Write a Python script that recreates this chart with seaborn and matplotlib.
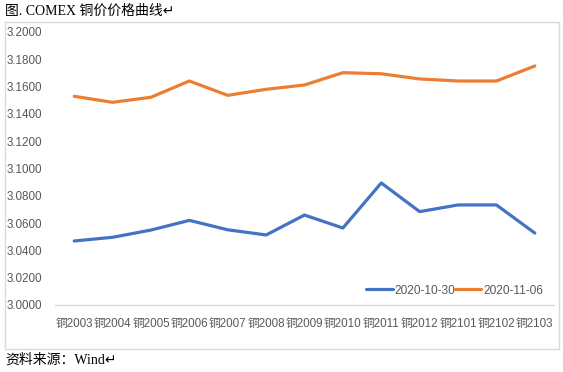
import pandas as pd
import seaborn as sns
import matplotlib.pyplot as plt
from matplotlib.patches import Rectangle

# contract months and prices
contracts = ["铜2003", "铜2004", "铜2005", "铜2006", "铜2007", "铜2008", "铜2009",
             "铜2010", "铜2011", "铜2012", "铜2101", "铜2102", "铜2103"]
price_1030 = [3.0469, 3.0496, 3.0549, 3.0620, 3.0551, 3.0513, 3.0659,
              3.0564, 3.0894, 3.0684, 3.0733, 3.0733, 3.0527]
price_1106 = [3.1529, 3.1485, 3.1522, 3.1641, 3.1536, 3.1580, 3.1612,
              3.1702, 3.1694, 3.1656, 3.1641, 3.1641, 3.1751]
series_names = ["2020-10-30", "2020-11-06"]
yticks = [3.0000, 3.0200, 3.0400, 3.0600, 3.0800, 3.1000,
          3.1200, 3.1400, 3.1600, 3.1800, 3.2000]

df = pd.DataFrame({
    "合约": contracts * 2,
    "价格": price_1030 + price_1106,
    "日期": [series_names[0]] * len(contracts) + [series_names[1]] * len(contracts),
})

sns.set_style("white")
plt.rcParams["font.family"] = ["Liberation Sans", "Noto Sans CJK SC", "DejaVu Sans"]

W, H = 563, 372
fig = plt.figure(figsize=(W / 100, H / 100), dpi=100)
ax = fig.add_axes([55 / W, (H - 305) / H, (554 - 55) / W, (305 - 32) / H])

sns.lineplot(data=df, x="合约", y="价格", hue="日期", sort=False,
             palette=["#4472C4", "#ED7D31"], linewidth=2.3, ax=ax)

grey = "#595959"
ax.set_xlim(-0.5, len(contracts) - 0.5)
ax.set_ylim(3.0, 3.2)
ax.set_yticks(yticks)
ax.set_yticklabels([f"{v:.4f}" for v in yticks], ha="left")
ax.tick_params(axis="y", length=0, pad=34.5, labelsize=8.4, labelcolor=grey)
ax.tick_params(axis="x", length=0, pad=9, labelsize=8.4, labelcolor=grey)
ax.set_xlabel("")
ax.set_ylabel("")
for side in ["top", "right", "left"]:
    ax.spines[side].set_visible(False)
ax.spines["bottom"].set_color("#d9d9d9")
ax.spines["bottom"].set_linewidth(1.0)
ax.patch.set_alpha(0)

leg = ax.legend(loc="lower right", bbox_to_anchor=(0.995, 0.0), ncol=2, frameon=False,
                fontsize=8.6, handlelength=2.2, handletextpad=0.15, columnspacing=0.0,
                borderaxespad=0.3)
for t in leg.get_texts():
    t.set_color(grey)

# outer chart frame
fig.patches.append(Rectangle((5 / W, (H - 349) / H), (559 - 5) / W, (349 - 21.5) / H,
                             transform=fig.transFigure, fill=False,
                             edgecolor="#d9d9d9", linewidth=1.0))

fig.text(5 / W, 1 - 11 / H, "图. COMEX 铜价价格曲线↵", fontsize=10,
         family=["Liberation Serif", "Noto Sans CJK SC", "DejaVu Sans"],
         va="center", ha="left", color="#000000")
fig.text(5 / W, 1 - 360 / H, "资料来源：Wind↵", fontsize=10,
         family=["Liberation Serif", "Noto Sans CJK SC", "DejaVu Sans"],
         va="center", ha="left", color="#000000")

fig.savefig("out.png", dpi=100)
